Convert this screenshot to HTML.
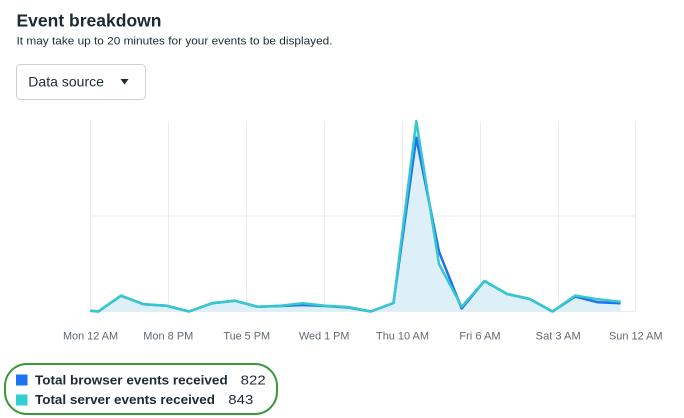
<!DOCTYPE html>
<html><head><meta charset="utf-8"><style>
html,body{margin:0;padding:0;background:#fff;width:684px;height:418px;overflow:hidden}
svg{display:block}
text{font-family:"Liberation Sans",Arial,sans-serif}
</style></head><body>
<svg width="684" height="418" viewBox="0 0 684 418" xmlns="http://www.w3.org/2000/svg">
<rect width="684" height="418" fill="#fff"/>
<text x="16.5" y="26.7" font-size="17.5" font-weight="bold" fill="#1c2b33" textLength="145" lengthAdjust="spacingAndGlyphs">Event breakdown</text>
<text x="16.5" y="44.5" font-size="11" fill="#1c2b33" textLength="316" lengthAdjust="spacingAndGlyphs">It may take up to 20 minutes for your events to be displayed.</text>
<rect x="16.5" y="64.5" width="129" height="35" rx="4" fill="#fff" stroke="#ccd0d5" stroke-width="1"/>
<text x="28.3" y="86.7" font-size="14" fill="#1c2b33" textLength="75.7" lengthAdjust="spacingAndGlyphs">Data source</text>
<polygon points="120.5,79 128.5,79 124.5,84.5" fill="#1c2b33"/>
<g stroke="#ebebeb" stroke-width="1">
<line x1="90.5" y1="122" x2="90.5" y2="311"/>
<line x1="168.5" y1="122" x2="168.5" y2="311"/>
<line x1="246.5" y1="122" x2="246.5" y2="311"/>
<line x1="324.5" y1="122" x2="324.5" y2="311"/>
<line x1="402.5" y1="122" x2="402.5" y2="311"/>
<line x1="480.5" y1="122" x2="480.5" y2="311"/>
<line x1="558.5" y1="122" x2="558.5" y2="311"/>
<line x1="635.5" y1="122" x2="635.5" y2="311"/>
<line x1="90" y1="216" x2="636" y2="216"/>
<line x1="90" y1="311.5" x2="636" y2="311.5"/>
</g>
<path d="M90.3,311 L90.3,310.7 L98.3,311.5 L121,295.7 L143.7,304.3 L166.4,305.7 L189.1,311.5 L211.8,303.3 L234.6,300.7 L257.3,306.7 L280,305.7 L302.7,303.3 L325.4,305.7 L348.1,307 L370.8,311.5 L393.5,303 L416.3,121 L439,264 L461.7,306.7 L484.4,281 L507.1,294 L529.8,299 L552.5,311.5 L575.2,295.5 L597.9,299.3 L620.6,301.7 L620.6,311.5 L90.3,311.5 Z" fill="#ddf0f8"/>
<polyline fill="none" stroke="#2370ee" stroke-width="2.5" stroke-linejoin="round" points="90.3,310.7 98.3,311.5 121,295.7 143.7,304.3 166.4,305.7 189.1,311.5 211.8,303.3 234.6,300.7 257.3,306.7 280,306 302.7,305 325.4,306 348.1,307.5 370.8,311.5 393.5,303 416.3,137.7 439,251.7 461.7,308.5 484.4,281 507.1,294 529.8,299 552.5,311.5 575.2,296.5 597.9,302.3 620.6,303.3"/>
<polyline fill="none" stroke="#35c8cf" stroke-width="2.5" stroke-linejoin="round" points="90.3,310.7 98.3,311.5 121,295.7 143.7,304.3 166.4,305.7 189.1,311.5 211.8,303.3 234.6,300.7 257.3,306.7 280,305.7 302.7,303.3 325.4,305.7 348.1,307 370.8,311.5 393.5,303 416.3,121 439,264 461.7,306.7 484.4,281 507.1,294 529.8,299 552.5,311.5 575.2,295.5 597.9,299.3 620.6,301.7"/>
<g font-size="11" fill="#5f6872" text-anchor="middle">
<text x="90.5" y="339.5" textLength="55" lengthAdjust="spacingAndGlyphs">Mon 12 AM</text>
<text x="168.3" y="339.5" textLength="50" lengthAdjust="spacingAndGlyphs">Mon 8 PM</text>
<text x="246.7" y="339.5" textLength="46.7" lengthAdjust="spacingAndGlyphs">Tue 5 PM</text>
<text x="324.2" y="339.5" textLength="50.3" lengthAdjust="spacingAndGlyphs">Wed 1 PM</text>
<text x="402.5" y="339.5" textLength="53" lengthAdjust="spacingAndGlyphs">Thu 10 AM</text>
<text x="480" y="339.5" textLength="41.4" lengthAdjust="spacingAndGlyphs">Fri 6 AM</text>
<text x="558.2" y="339.5" textLength="45" lengthAdjust="spacingAndGlyphs">Sat 3 AM</text>
<text x="635.8" y="339.5" textLength="53.7" lengthAdjust="spacingAndGlyphs">Sun 12 AM</text>
</g>
<rect x="5" y="364" width="272" height="50" rx="22" fill="none" stroke="#3a9a3a" stroke-width="2"/>
<rect x="16" y="374.5" width="11.5" height="11" fill="#1b74f0"/>
<rect x="16" y="394.5" width="11.5" height="11" fill="#31cfcf"/>
<text x="35" y="384.5" font-size="13" font-weight="bold" fill="#1c2b33" textLength="192.7" lengthAdjust="spacingAndGlyphs">Total browser events received</text>
<text x="240.7" y="384.5" font-size="13" fill="#1c2b33" textLength="25" lengthAdjust="spacingAndGlyphs">822</text>
<text x="35" y="404" font-size="13" font-weight="bold" fill="#1c2b33" textLength="180" lengthAdjust="spacingAndGlyphs">Total server events received</text>
<text x="228.3" y="404" font-size="13" fill="#1c2b33" textLength="25" lengthAdjust="spacingAndGlyphs">843</text>
</svg>
</body></html>
